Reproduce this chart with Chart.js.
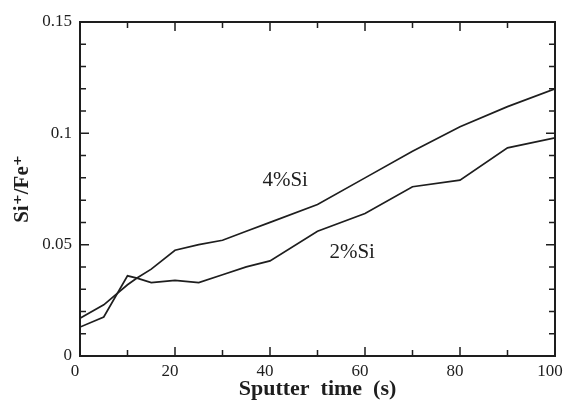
<!DOCTYPE html>
<html>
<head>
<meta charset="utf-8">
<script src="https://cdn.jsdelivr.net/npm/chart.js@4/dist/chart.umd.min.js"></script>
<style>
  html, body { margin: 0; padding: 0; background: #fff; }
  #wrap { width: 566px; height: 400px; }
</style>
</head>
<body>
<div id="wrap"><canvas id="myChart"></canvas></div>
<script>
// sputter time (s) and Si+/Fe+ ratio
var time4 = [0, 5, 10, 12, 15, 20, 25, 30, 35, 40, 50, 60, 70, 80, 90, 100];
var si4   = [0.017, 0.023, 0.032, 0.035, 0.039, 0.0475, 0.050, 0.052, 0.056, 0.060, 0.068, 0.080, 0.092, 0.103, 0.112, 0.120];

var time2 = [0, 5, 10, 12, 15, 20, 25, 30, 35, 40, 50, 60, 70, 80, 90, 100];
var si2   = [0.013, 0.0175, 0.036, 0.035, 0.033, 0.034, 0.033, 0.0365, 0.040, 0.0427, 0.056, 0.064, 0.076, 0.079, 0.0935, 0.098];

// names written next to the curves and where they sit (data units)
var seriesNames = ['4%Si', '2%Si'];
var nameX = [43.2, 57.3];
var nameY = [0.0788, 0.0466];

// tick labels and tick marks
var xTickLabels = [0, 20, 40, 60, 80, 100];
var yTickLabels = [0, 0.05, 0.1, 0.15];
var xMinor = [10, 30, 50, 70, 90];
var yMinor = [0.01, 0.02, 0.03, 0.04, 0.06, 0.07, 0.08, 0.09, 0.11, 0.12, 0.13, 0.14];

function pts(xs, ys) {
  var out = [];
  for (var i = 0; i < xs.length; i++) out.push({x: xs[i], y: ys[i]});
  return out;
}

var ink = '#1e1e1e';
var serif = '"Liberation Serif", "DejaVu Serif", serif';

// inward ticks on all four sides, top/right frame, curve names
var framePlugin = {
  id: 'frame',
  afterDraw: function(chart) {
    var c = chart.ctx, a = chart.chartArea;
    var xs = chart.scales.x, ys = chart.scales.y;
    c.save();
    c.strokeStyle = ink;
    c.lineWidth = 2;
    c.beginPath();
    c.moveTo(a.left, a.top); c.lineTo(a.right, a.top); c.lineTo(a.right, a.bottom);
    c.stroke();
    c.lineWidth = 1.5;
    c.beginPath();
    function xt(v, len) {
      var p = xs.getPixelForValue(v);
      c.moveTo(p, a.bottom); c.lineTo(p, a.bottom - len);
      c.moveTo(p, a.top); c.lineTo(p, a.top + len);
    }
    function yt(v, len) {
      var p = ys.getPixelForValue(v);
      c.moveTo(a.left, p); c.lineTo(a.left + len, p);
      c.moveTo(a.right, p); c.lineTo(a.right - len, p);
    }
    xTickLabels.forEach(function(v) { xt(v, 9); });
    xMinor.forEach(function(v) { xt(v, 6); });
    yTickLabels.forEach(function(v) { yt(v, 9); });
    yMinor.forEach(function(v) { yt(v, 6); });
    c.stroke();

    c.fillStyle = ink;
    c.font = '21px ' + serif;
    c.textAlign = 'center';
    c.textBaseline = 'middle';
    for (var i = 0; i < seriesNames.length; i++) {
      c.fillText(seriesNames[i], xs.getPixelForValue(nameX[i]), ys.getPixelForValue(nameY[i]));
    }
    c.restore();
  }
};

const ctx = document.getElementById('myChart');

var chart = new Chart(ctx, {
  type: 'line',
  data: {
    datasets: [{
      label: seriesNames[0],
      data: pts(time4, si4),
      borderColor: ink,
      borderWidth: 1.7,
      pointRadius: 0,
      tension: 0,
      fill: false
    }, {
      label: seriesNames[1],
      data: pts(time2, si2),
      borderColor: ink,
      borderWidth: 1.7,
      pointRadius: 0,
      tension: 0,
      fill: false
    }]
  },
  options: {
    responsive: true,
    maintainAspectRatio: false,
    animation: false,
    events: [],
    layout: {
      padding: {left: 0, right: 11, top: 22, bottom: 0}
    },
    plugins: {
      legend: false,
      tooltip: {enabled: false}
    },
    scales: {
      x: {
        type: 'linear',
        min: 0,
        max: 100,
        afterFit: function(s) {
          s.height = 44;
          s.paddingLeft = 0;
          s.paddingRight = 0;
        },
        afterBuildTicks: function(s) {
          s.ticks = xTickLabels.map(function(v) { return {value: v}; });
        },
        grid: {display: false, drawTicks: false},
        border: {display: true, color: ink, width: 2},
        ticks: {
          color: ink,
          padding: 5,
          labelOffset: -5,
          maxRotation: 0,
          font: {family: serif, size: 17}
        },
        title: {
          display: true,
          text: 'Sputter  time  (s)',
          color: ink,
          padding: {top: 0, bottom: 0},
          font: {family: serif, size: 22, weight: 'bold', lineHeight: 1}
        }
      },
      y: {
        min: 0,
        max: 0.15,
        afterFit: function(s) { s.width = 80; },
        afterBuildTicks: function(s) {
          s.ticks = yTickLabels.map(function(v) { return {value: v}; });
        },
        grid: {display: false, drawTicks: false},
        border: {display: true, color: ink, width: 2},
        ticks: {
          color: ink,
          padding: 8,
          font: {family: serif, size: 17},
          callback: function(v) { return String(v); }
        },
        title: {
          display: true,
          text: 'Si\u207A/Fe\u207A',
          color: ink,
          padding: {top: 10, bottom: 0},
          font: {family: serif, size: 21, weight: 'bold'}
        }
      }
    }
  },
  plugins: [framePlugin]
});
</script>
</body>
</html>
